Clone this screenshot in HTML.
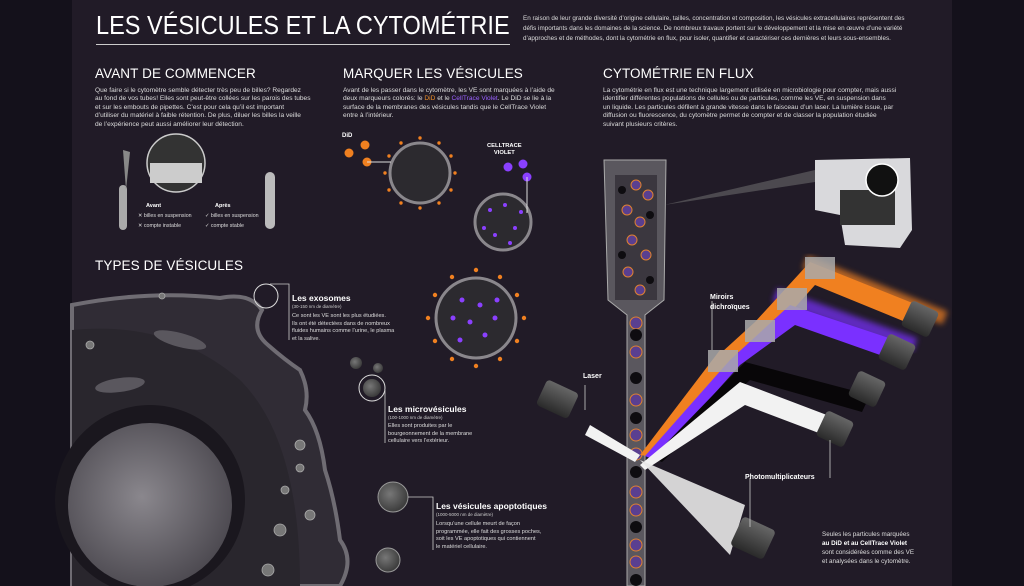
<!DOCTYPE html>
<html><head><meta charset="utf-8"><style>
*{margin:0;padding:0;box-sizing:border-box}
body{width:1024px;height:586px;overflow:hidden;background:#14111b;font-family:"Liberation Sans","DejaVu Sans",sans-serif;color:#fff;position:relative}
#panel{position:absolute;left:72px;top:0;width:880px;height:586px;background:#211b27}
.t{position:absolute;white-space:nowrap}
.h{font-size:13.5px;letter-spacing:0.1px}
.p{font-size:6.6px;line-height:8.4px;color:#ddd}
.s{font-size:6.3px;line-height:8px;color:#ddd}
.lb{font-size:8.5px;font-weight:bold}
svg{position:absolute;left:0;top:0}
</style></head><body>
<div id="panel"></div>
<svg width="1024" height="586" viewBox="0 0 1024 586">
<defs>
<radialGradient id="nuc" cx="0.45" cy="0.45" r="0.6"><stop offset="0" stop-color="#8a878d"/><stop offset="1" stop-color="#4a474e"/></radialGradient>
<radialGradient id="ves" cx="0.4" cy="0.4" r="0.7"><stop offset="0" stop-color="#777"/><stop offset="1" stop-color="#333"/></radialGradient>
<linearGradient id="pmt" x1="0" y1="0" x2="0" y2="1"><stop offset="0" stop-color="#666"/><stop offset="1" stop-color="#2a2a2a"/></linearGradient>
<filter id="gl"><feGaussianBlur stdDeviation="3"/></filter>
</defs>
<path d="M72,305 Q150,290 220,298 Q250,292 262,310 Q250,330 268,345 Q285,360 300,370 Q310,390 305,410 Q320,430 325,470 Q335,500 340,540 Q355,560 340,586 L72,586 Z" fill="#302c35" stroke="#6f6c73" stroke-width="4"/>
<path d="M72,330 Q170,320 240,380 Q300,440 300,586 L72,586 Z" fill="#29262d"/>
<circle cx="150" cy="500" r="95" fill="#1a171e"/>
<circle cx="150" cy="505" r="82" fill="url(#nuc)"/>
<g fill="#777" stroke="#aaa" stroke-width="0.8">
<circle cx="162" cy="296" r="3"/><circle cx="90" cy="345" r="4"/><circle cx="300" cy="445" r="5"/><circle cx="300" cy="468" r="4"/><circle cx="285" cy="490" r="4"/><circle cx="280" cy="530" r="6"/><circle cx="310" cy="515" r="5"/><circle cx="268" cy="570" r="6"/>
</g>
<ellipse cx="180" cy="340" rx="27" ry="7" fill="#5a575e" transform="rotate(15 180 340)"/>
<ellipse cx="120" cy="385" rx="25" ry="7" fill="#5a575e" transform="rotate(-8 120 385)"/>
<circle cx="356" cy="363" r="6" fill="url(#ves)"/><circle cx="378" cy="368" r="5" fill="url(#ves)"/>
<circle cx="372" cy="388" r="9" fill="url(#ves)"/><circle cx="372" cy="388" r="13" fill="none" stroke="#ddd" stroke-width="1"/>
<path d="M385,390 L385,443" stroke="#ccc" stroke-width="0.8" fill="none"/>
<circle cx="266" cy="296" r="12" fill="none" stroke="#ddd" stroke-width="1"/>
<path d="M270,284 L289,284 L289,340" stroke="#ccc" stroke-width="0.8" fill="none"/>
<circle cx="393" cy="497" r="15" fill="url(#ves)" stroke="#999"/>
<circle cx="388" cy="560" r="12" fill="url(#ves)" stroke="#999"/>
<path d="M408,497 L433,497 L433,550" stroke="#ccc" stroke-width="0.8" fill="none"/>
<circle cx="420" cy="173" r="30" fill="#2c2a2f" stroke="#8a878c" stroke-width="3"/>
<g fill="#f08020">
<circle cx="349" cy="153" r="4.5"/><circle cx="365" cy="145" r="4.5"/><circle cx="367" cy="162" r="4.5"/>
</g>
<path d="M367,162 L391,162" stroke="#ddd" stroke-width="1"/>
<g fill="#f08020">
<circle cx="420" cy="138" r="1.7"/><circle cx="439" cy="143" r="1.7"/><circle cx="451" cy="156" r="1.7"/><circle cx="455" cy="173" r="1.7"/><circle cx="451" cy="190" r="1.7"/><circle cx="439" cy="203" r="1.7"/><circle cx="420" cy="208" r="1.7"/><circle cx="401" cy="203" r="1.7"/><circle cx="389" cy="190" r="1.7"/><circle cx="385" cy="173" r="1.7"/><circle cx="389" cy="156" r="1.7"/><circle cx="401" cy="143" r="1.7"/>
</g>
<circle cx="503" cy="222" r="28" fill="#2c2a2f" stroke="#8a878c" stroke-width="3"/>
<g fill="#8a40ff"><circle cx="508" cy="167" r="4.5"/><circle cx="523" cy="164" r="4.5"/><circle cx="527" cy="177" r="4.5"/>
<circle cx="490" cy="210" r="2"/><circle cx="505" cy="205" r="2"/><circle cx="515" cy="228" r="2"/><circle cx="495" cy="235" r="2"/><circle cx="484" cy="228" r="2"/><circle cx="510" cy="243" r="2"/><circle cx="521" cy="212" r="2"/></g>
<path d="M527,177 L527,213" stroke="#ddd" stroke-width="1"/>
<circle cx="476" cy="318" r="40" fill="#2c2a2f" stroke="#8a878c" stroke-width="3"/>
<g fill="#8a40ff"><circle cx="462" cy="300" r="2.5"/><circle cx="480" cy="305" r="2.5"/><circle cx="495" cy="318" r="2.5"/><circle cx="470" cy="322" r="2.5"/><circle cx="485" cy="335" r="2.5"/><circle cx="460" cy="340" r="2.5"/><circle cx="497" cy="300" r="2.5"/><circle cx="453" cy="318" r="2.5"/></g>
<g fill="#f08020"><circle cx="476" cy="270" r="2.2"/><circle cx="500" cy="277" r="2.2"/><circle cx="517" cy="295" r="2.2"/><circle cx="524" cy="318" r="2.2"/><circle cx="517" cy="341" r="2.2"/><circle cx="500" cy="359" r="2.2"/><circle cx="476" cy="366" r="2.2"/><circle cx="452" cy="359" r="2.2"/><circle cx="435" cy="341" r="2.2"/><circle cx="428" cy="318" r="2.2"/><circle cx="435" cy="295" r="2.2"/><circle cx="452" cy="277" r="2.2"/></g>
<rect x="119" y="185" width="8" height="45" rx="4" fill="#aaa"/>
<path d="M123,150 L130,152 L126,190 Z" fill="#888"/>
<circle cx="176" cy="163" r="29" fill="#333" stroke="#ccc" stroke-width="1.5"/>
<rect x="150" y="163" width="52" height="20" fill="#ccc"/>
<rect x="265" y="172" width="10" height="57" rx="5" fill="#bbb"/>
<path d="M604,160 L666,160 L664,300 L645,315 L645,586 L627,586 L627,315 L608,300 Z" fill="#5a575e" stroke="#aaa" stroke-width="1"/>
<rect x="615" y="175" width="42" height="125" fill="#3b373f"/>
<g fill="#5a3f90" stroke="#e08030" stroke-width="1">
<circle cx="636" cy="185" r="5"/><circle cx="648" cy="195" r="5"/><circle cx="627" cy="210" r="5"/><circle cx="640" cy="222" r="5"/><circle cx="632" cy="240" r="5"/><circle cx="646" cy="255" r="5"/><circle cx="628" cy="272" r="5"/><circle cx="640" cy="290" r="5"/>
<circle cx="636" cy="323" r="6"/><circle cx="636" cy="352" r="6"/><circle cx="636" cy="400" r="6"/><circle cx="636" cy="435" r="6"/><circle cx="636" cy="454" r="6"/><circle cx="636" cy="492" r="6"/><circle cx="636" cy="510" r="6"/><circle cx="636" cy="545" r="6"/><circle cx="636" cy="562" r="6"/>
</g>
<g fill="#0e0c10"><circle cx="622" cy="190" r="4"/><circle cx="650" cy="215" r="4"/><circle cx="622" cy="255" r="4"/><circle cx="650" cy="280" r="4"/><circle cx="636" cy="335" r="6"/><circle cx="636" cy="378" r="6"/><circle cx="636" cy="418" r="6"/><circle cx="636" cy="472" r="6"/><circle cx="636" cy="527" r="6"/><circle cx="636" cy="580" r="6"/></g>
<path d="M664,205 L815,170 L815,182 Z" fill="#777" opacity="0.5"/>
<path d="M815,160 L910,158 L912,230 L900,248 L845,245 L840,215 L815,210 Z" fill="#d9d9dc"/>
<rect x="840" y="190" width="55" height="35" fill="#333"/>
<circle cx="882" cy="180" r="16" fill="#111" stroke="#fff" stroke-width="1.5"/>
<g filter="url(#gl)" opacity="0.7"><path d="M805,262 L945,318" stroke="#f08020" stroke-width="14"/><path d="M775,295 L915,345" stroke="#7a30ff" stroke-width="14"/></g>
<path d="M640,455 L720,350 L740,350 L660,458 Z" fill="#f08020"/>
<path d="M722,352 L755,322 L810,262 L935,312 L925,330 L815,285 L775,330 L745,352 Z" fill="#f08020"/>
<path d="M645,456 L730,360 L790,305 L910,345 L900,362 L795,325 L740,365 L655,460 Z" fill="#7a30ff"/>
<path d="M652,458 L745,362 L870,395 L862,412 L750,380 L662,462 Z" fill="#080608"/>
<path d="M640,465 L740,382 L840,420 L832,438 L745,405 L645,470 Z" fill="#f2f2f2"/>
<path d="M640,455 L590,425 L585,435 L635,462 Z" fill="#f2f2f2"/>
<path d="M640,460 L745,505 L730,555 Z" fill="#e8e8e8" opacity="0.9"/>
<g fill="#aaa" opacity="0.85"><rect x="708" y="350" width="30" height="22"/><rect x="745" y="320" width="30" height="22"/><rect x="777" y="288" width="30" height="22"/><rect x="805" y="257" width="30" height="22"/></g>
<g fill="url(#pmt)">
<rect x="905" y="305" width="30" height="28" rx="4" transform="rotate(25 920 319)"/>
<rect x="882" y="338" width="30" height="28" rx="4" transform="rotate(25 897 352)"/>
<rect x="852" y="375" width="30" height="28" rx="4" transform="rotate(25 867 389)"/>
<rect x="820" y="415" width="30" height="28" rx="4" transform="rotate(25 835 429)"/>
<rect x="735" y="522" width="36" height="32" rx="4" transform="rotate(25 753 538)"/>
<rect x="540" y="385" width="35" height="28" rx="4" transform="rotate(25 557 399)"/>
</g>
<g stroke="#ccc" stroke-width="0.8" fill="none">
<path d="M585,385 L585,410"/><path d="M712,301 L712,350"/><path d="M750,478 L750,527"/><path d="M830,478 L830,440"/>
</g>
</svg>
<div class="t" style="left:96px;top:10px;font-size:26px;color:#fff;transform:scaleX(0.905);transform-origin:left">LES VÉSICULES ET LA CYTOMÉTRIE</div>
<div style="position:absolute;left:96px;top:44px;width:414px;height:1px;background:#ccc"></div>
<div class="t s" style="left:523px;top:14px;line-height:10px">En raison de leur grande diversité d’origine cellulaire, tailles, concentration et composition, les vésicules extracellulaires représentent des<br>défis importants dans les domaines de la science. De nombreux travaux portent sur le développement et la mise en œuvre d’une variété<br>d’approches et de méthodes, dont la cytométrie en flux, pour isoler, quantifier et caractériser ces dernières et leurs sous-ensembles.</div>
<div class="t h" style="left:95px;top:66px">AVANT DE COMMENCER</div>
<div class="t h" style="left:343px;top:66px">MARQUER LES VÉSICULES</div>
<div class="t h" style="left:603px;top:66px">CYTOMÉTRIE EN FLUX</div>
<div class="t h" style="left:95px;top:258px">TYPES DE VÉSICULES</div>
<div class="t p" style="left:95px;top:87px">Que faire si le cytomètre semble détecter très peu de billes? Regardez<br>au fond de vos tubes! Elles sont peut-être collées sur les parois des tubes<br>et sur les embouts de pipettes. C’est pour cela qu’il est important<br>d’utiliser du matériel à faible rétention. De plus, diluer les billes la veille<br>de l’expérience peut aussi améliorer leur détection.</div>
<div class="t p" style="left:343px;top:87px">Avant de les passer dans le cytomètre, les VE sont marquées à l’aide de<br>deux marqueurs colorés: le <span style="color:#f0902a">DiD</span> et le <span style="color:#9a60ff">CellTrace Violet</span>. Le DiD se lie à la<br>surface de la membranes des vésicules tandis que le CellTrace Violet<br>entre à l’intérieur.</div>
<div class="t p" style="left:603px;top:87px">La cytométrie en flux est une technique largement utilisée en microbiologie pour compter, mais aussi<br>identifier différentes populations de cellules ou de particules, comme les VE, en suspension dans<br>un liquide. Les particules défilent à grande vitesse dans le faisceau d’un laser. La lumière issue, par<br>diffusion ou fluorescence, du cytomètre permet de compter et de classer la population étudiée<br>suivant plusieurs critères.</div>
<div class="t" style="left:146px;top:203px;font-size:5.5px;font-weight:bold">Avant</div>
<div class="t" style="left:215px;top:203px;font-size:5.5px;font-weight:bold">Après</div>
<div class="t" style="left:138px;top:212px;font-size:5.3px;line-height:9.5px;color:#ddd">✕ billes en suspension<br>✕ compte instable</div>
<div class="t" style="left:205px;top:212px;font-size:5.3px;line-height:9.5px;color:#ddd">✓ billes en suspension<br>✓ compte stable</div>
<div class="t" style="left:342px;top:133px;font-size:6px;font-weight:bold">DiD</div>
<div class="t" style="left:487px;top:143px;font-size:5.8px;font-weight:bold;text-align:center;line-height:7px">CELLTRACE<br>VIOLET</div>
<div class="t lb" style="left:292px;top:293px">Les exosomes</div>
<div class="t" style="left:292px;top:304px;font-size:4.5px;color:#ccc">(30-150 nm de diamètre)</div>
<div class="t s" style="left:292px;top:313px;font-size:5.6px;line-height:7.5px">Ce sont les VE sont les plus étudiées.<br>Ils ont été détectées dans de nombreux<br>fluides humains comme l’urine, le plasma<br>et la salive.</div>
<div class="t lb" style="left:388px;top:404px">Les microvésicules</div>
<div class="t" style="left:388px;top:415px;font-size:4.5px;color:#ccc">(100-1000 nm de diamètre)</div>
<div class="t s" style="left:388px;top:423px;font-size:5.6px;line-height:7.5px">Elles sont produites par le<br>bourgeonnement de la membrane<br>cellulaire vers l’extérieur.</div>
<div class="t lb" style="left:436px;top:501px">Les vésicules apoptotiques</div>
<div class="t" style="left:436px;top:512px;font-size:4.5px;color:#ccc">(1000-5000 nm de diamètre)</div>
<div class="t s" style="left:436px;top:521px;font-size:5.6px;line-height:7.5px">Lorsqu’une cellule meurt de façon<br>programmée, elle fait des grosses poches,<br>soit les VE apoptotiques qui contiennent<br>le matériel cellulaire.</div>
<div class="t" style="left:583px;top:373px;font-size:7px;font-weight:bold">Laser</div>
<div class="t" style="left:710px;top:293px;font-size:7px;font-weight:bold;line-height:10px">Miroirs<br>dichroïques</div>
<div class="t" style="left:745px;top:474px;font-size:7px;font-weight:bold">Photomultiplicateurs</div>
<div class="t" style="left:822px;top:530px;font-size:6.3px;line-height:9px;color:#ddd">Seules les particules marquées<br><b style="color:#fff">au DiD et au CellTrace Violet</b><br>sont considérées comme des VE<br>et analysées dans le cytomètre.</div>
</body></html>
